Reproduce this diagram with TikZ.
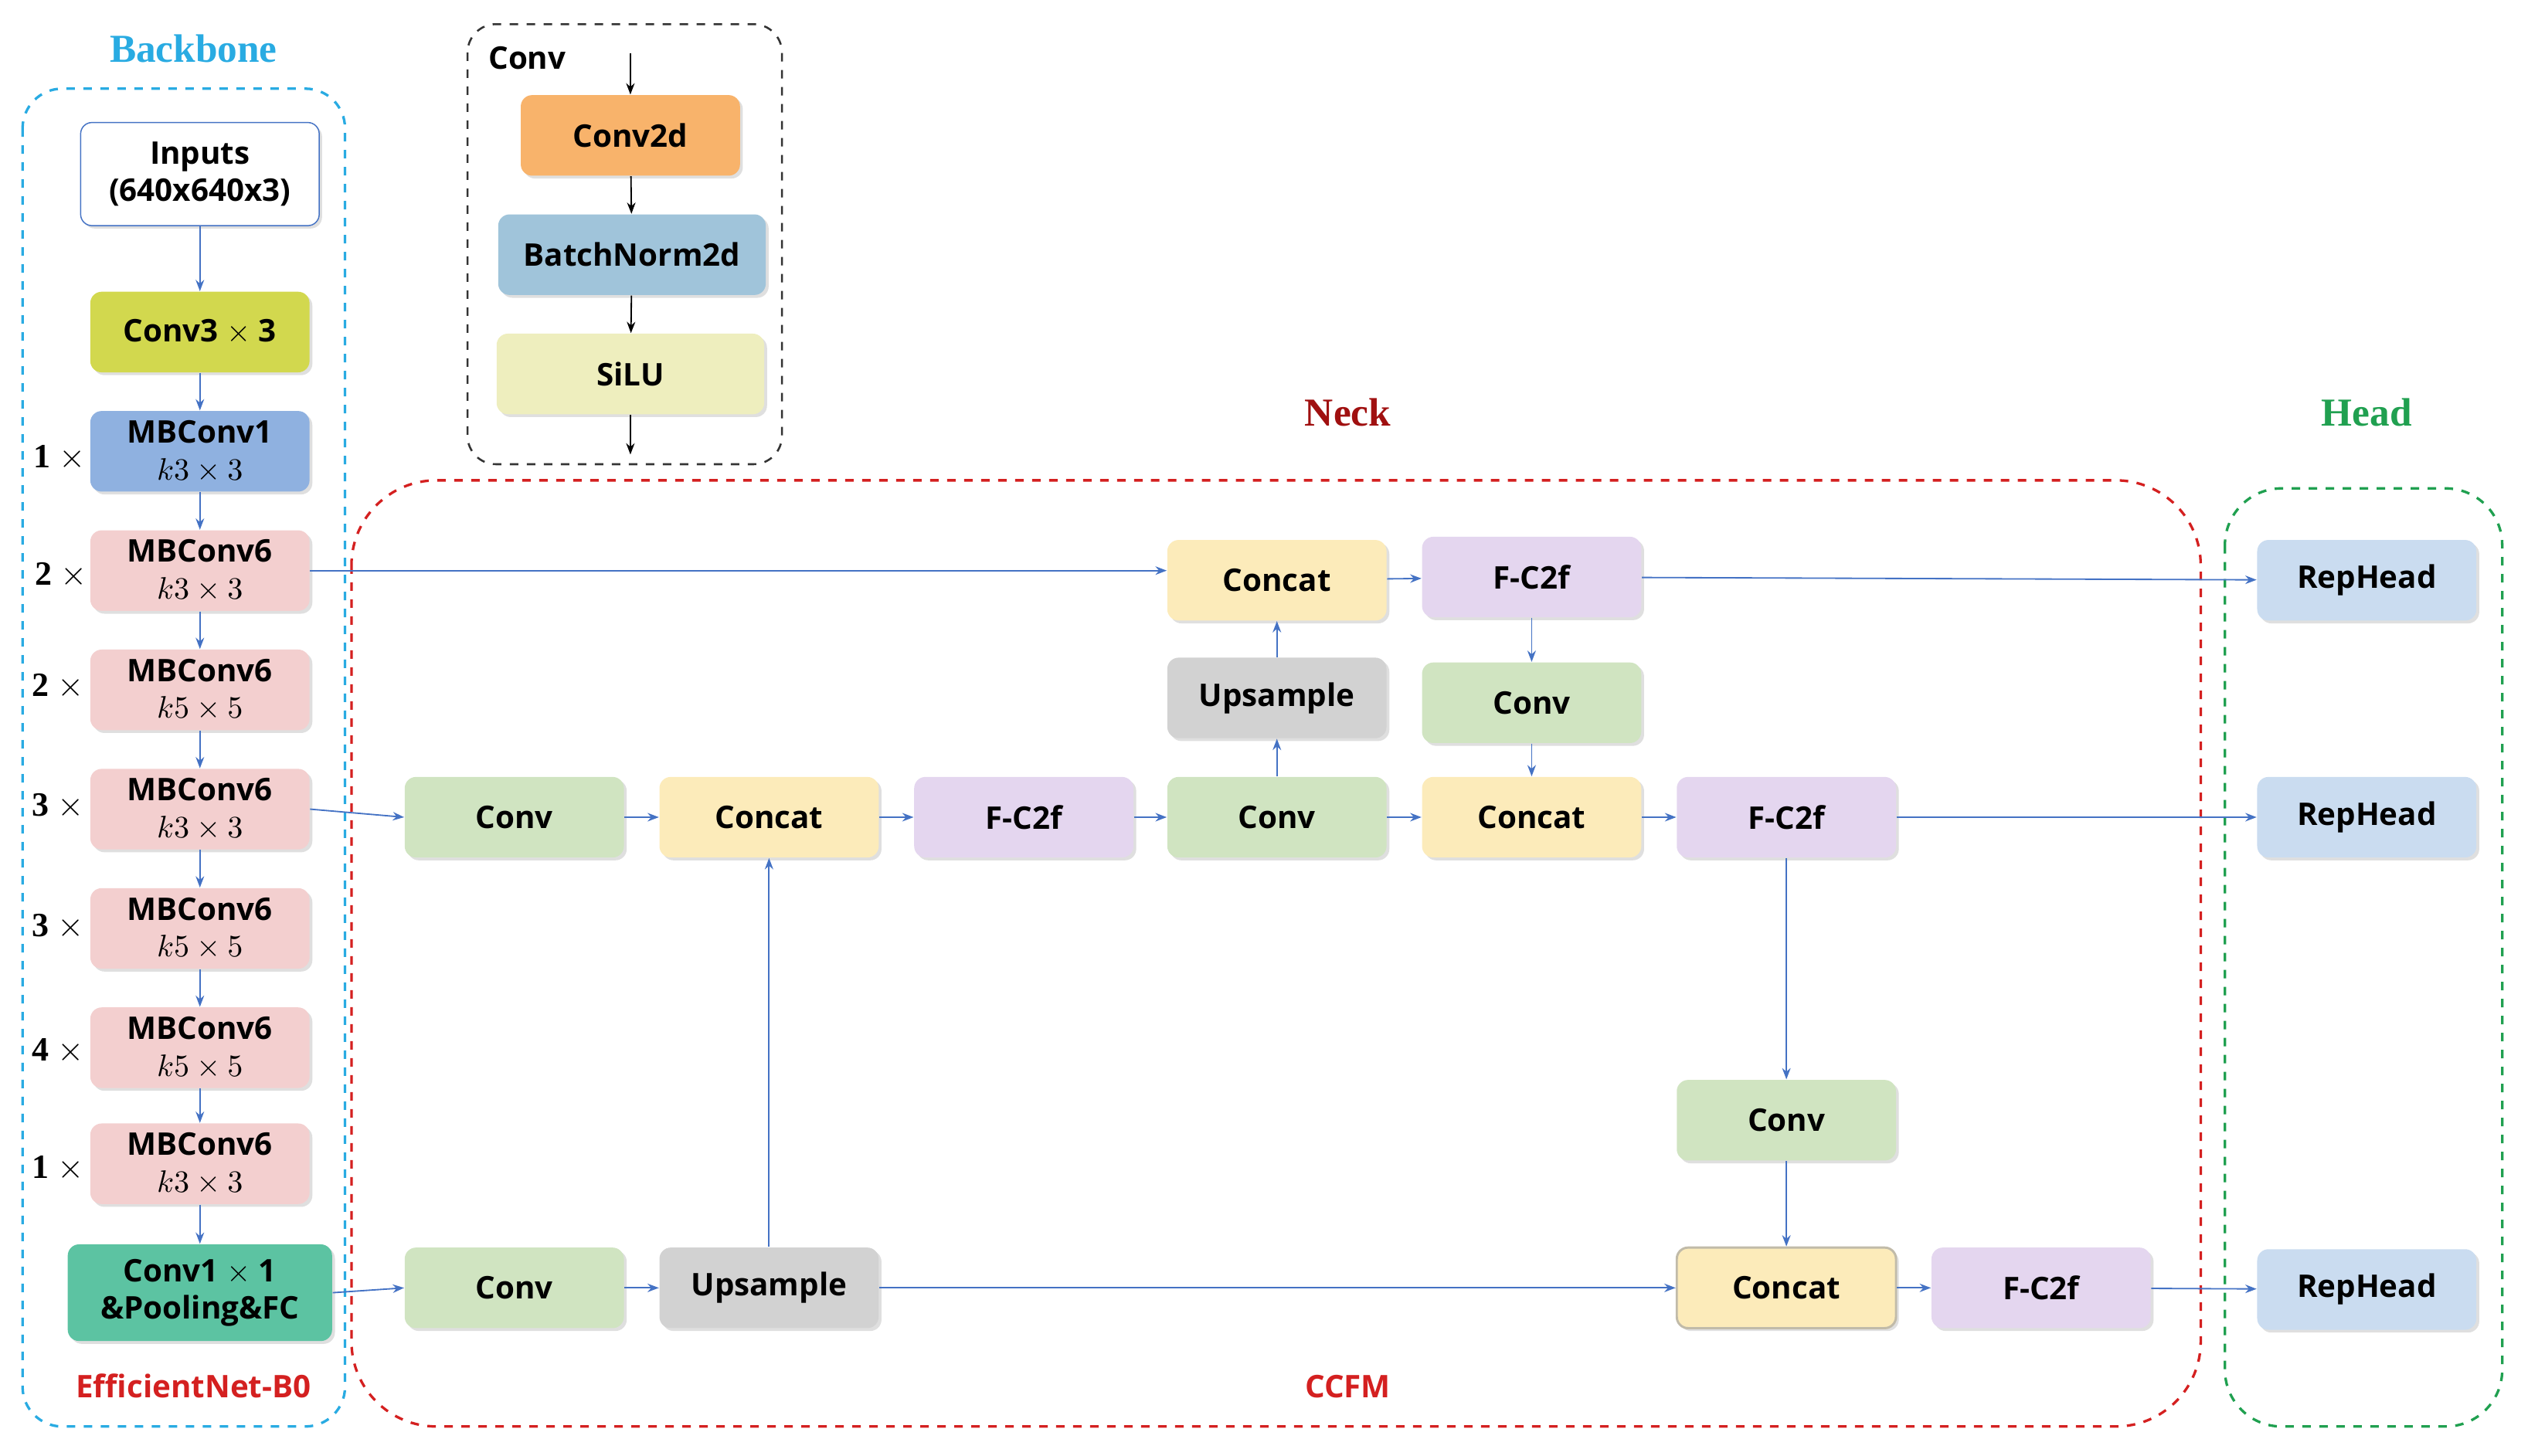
\documentclass[tikz,border=0pt]{standalone}
\usepackage{fontspec}
\setmainfont{Open Sans}
\newfontfamily\serifb{Liberation Serif}
\usetikzlibrary{shadows,arrows.meta}
\definecolor{cyanL}{HTML}{29ABE2}
\definecolor{redL}{HTML}{D42020}
\definecolor{darkred}{HTML}{A01010}
\definecolor{greenL}{HTML}{20A050}
\definecolor{arr}{HTML}{4472C4}
\definecolor{cOlive}{HTML}{D2D84E}
\definecolor{cBlue}{HTML}{8FB1E0}
\definecolor{cPink}{HTML}{F3CFCF}
\definecolor{cTeal}{HTML}{5CC3A2}
\definecolor{cOrange}{HTML}{F8B36B}
\definecolor{cBN}{HTML}{A0C4DA}
\definecolor{cSilu}{HTML}{EEEEBE}
\definecolor{cYel}{HTML}{FCEBBA}
\definecolor{cLav}{HTML}{E4D6EF}
\definecolor{cGray}{HTML}{D2D2D2}
\definecolor{cGreen}{HTML}{D0E4C1}
\definecolor{cRep}{HTML}{CADCF0}
\begin{document}
\begin{tikzpicture}[x=0.02cm,y=-0.02cm,
  font=\fontsize{11}{13}\selectfont\bfseries,
  box/.style={rounded corners=4pt,minimum width=2.72cm,minimum height=1cm,align=center,inner sep=1pt,
    drop shadow={opacity=0.25,shadow xshift=1pt,shadow yshift=-1pt}},
  bb/.style={box,fill=cPink},
  a/.style={draw=arr,-{Stealth[length=4pt,width=3pt]},line width=0.5pt},
  ka/.style={draw=black,-{Stealth[length=4pt,width=3pt]},line width=0.5pt},
  mul/.style={font=\fontsize{12}{14}\selectfont\serifb\bfseries},
  ttl/.style={font=\fontsize{14}{16}\selectfont\serifb\bfseries}]
\useasboundingbox (0,0) rectangle (1568,903);
% frames
\draw[cyanL,dashed,line width=0.9pt,rounded corners=14pt] (14,55) rectangle (214,885);
\draw[black!80,dashed,line width=0.7pt,rounded corners=10pt] (290,15) rectangle (485,288);
\draw[redL,dashed,line width=0.9pt,rounded corners=30pt] (218,298) rectangle (1365,885);
\draw[greenL,dashed,line width=0.9pt,rounded corners=20pt] (1380,303) rectangle (1552,885);
\node[ttl,text=cyanL] at (120,30) {Backbone};
\node[ttl,text=darkred] at (836,256) {Neck};
\node[ttl,text=greenL] at (1468,256) {Head};
\node[text=redL,font=\fontsize{11}{13}\selectfont\bfseries] at (120,860) {EfficientNet-B0};
\node[text=redL,font=\fontsize{11}{13}\selectfont\bfseries] at (836,860) {CCFM};
% backbone
\node[box,fill=white,draw=arr,minimum width=2.96cm,minimum height=1.28cm] (in) at (124,108) {Inputs\\(640x640x3)};
\node[box,fill=cOlive] (c3) at (124,206) {Conv3 $\times$ 3};
\node[box,fill=cBlue] (m1) at (124,280) {MBConv1\\$k3\times3$};
\node[bb] (m2) at (124,354) {MBConv6\\$k3\times3$};
\node[bb] (m3) at (124,428) {MBConv6\\$k5\times5$};
\node[bb] (m4) at (124,502) {MBConv6\\$k3\times3$};
\node[bb] (m5) at (124,576) {MBConv6\\$k5\times5$};
\node[bb] (m6) at (124,650) {MBConv6\\$k5\times5$};
\node[bb] (m7) at (124,722) {MBConv6\\$k3\times3$};
\node[box,fill=cTeal,minimum width=3.28cm,minimum height=1.2cm] (c1) at (124,802) {Conv1 $\times$ 1\\\&Pooling\&FC};
\foreach \p/\q in {in/c3,c3/m1,m1/m2,m2/m3,m3/m4,m4/m5,m5/m6,m6/m7,m7/c1} \draw[a] (\p) -- (\q);
\node[mul] at (37,284) {1 $\times$};
\node[mul] at (38,357) {2 $\times$};
\node[mul] at (36,426) {2 $\times$};
\node[mul] at (36,500) {3 $\times$};
\node[mul] at (36,575) {3 $\times$};
\node[mul] at (36,652) {4 $\times$};
\node[mul] at (36,725) {1 $\times$};
% legend
\node at (327,36) {Conv};
\node[box,fill=cOrange] (l1) at (391,84) {Conv2d};
\node[box,fill=cBN,minimum width=3.32cm] (l2) at (392,158) {BatchNorm2d};
\node[box,fill=cSilu,minimum width=3.32cm] (l3) at (391,232) {SiLU};
\coordinate (lt) at (391,33); \coordinate (lb) at (391,282);
\draw[ka] (lt) -- (l1); \draw[ka] (l1) -- (l2); \draw[ka] (l2) -- (l3); \draw[ka] (l3) -- (lb);
% neck
\node[box,fill=cYel] (ct) at (792,360) {Concat};
\node[box,fill=cLav] (ft) at (950,358) {F-C2f};
\node[box,fill=cGray] (ut) at (792,433) {Upsample};
\node[box,fill=cGreen] (cvt) at (950,436) {Conv};
\node[box,fill=cGreen] (a1) at (319,507) {Conv};
\node[box,fill=cYel] (a2) at (477,507) {Concat};
\node[box,fill=cLav] (a3) at (635,507) {F-C2f};
\node[box,fill=cGreen] (a4) at (792,507) {Conv};
\node[box,fill=cYel] (a5) at (950,507) {Concat};
\node[box,fill=cLav] (a6) at (1108,507) {F-C2f};
\node[box,fill=cGreen] (cv) at (1108,695) {Conv};
\node[box,fill=cGreen] (b1) at (319,799) {Conv};
\node[box,fill=cGray] (b2) at (477,799) {Upsample};
\node[box,fill=cYel,draw=cYel!60!black!60,line width=0.8pt] (b3) at (1108,799) {Concat};
\node[box,fill=cLav] (b4) at (1266,799) {F-C2f};
\node[box,fill=cRep] (r1) at (1468,360) {RepHead};
\node[box,fill=cRep] (r2) at (1468,507) {RepHead};
\node[box,fill=cRep] (r3) at (1468,800) {RepHead};
\draw[a] (m2.east) -- (m2.east -| ct.west);
\draw[a] (m4.east) -- (a1.west);
\draw[a] (c1.east) -- (b1.west);
\foreach \p/\q in {a1/a2,a2/a3,a3/a4,a4/a5,a5/a6,a6/r2,a4/ut,ut/ct,ct/ft,ft/r1,ft/cvt,cvt/a5,b1/b2,b2/b3,b2/a2,a6/cv,cv/b3,b3/b4,b4/r3}
  \draw[a] (\p) -- (\q);
\end{tikzpicture}
\end{document}
